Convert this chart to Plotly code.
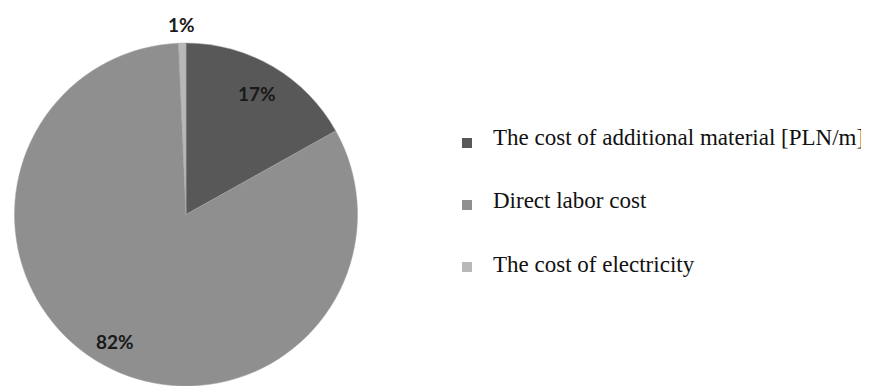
import math
import plotly.graph_objects as go

labels = ["The cost of additional material [PLN/m]", "Direct labor cost", "The cost of electricity"]
values = [16.9, 82.4, 0.7]
colors = ["#585858", "#8f8f8f", "#b8b8b8"]
pct_text = ["17%", "82%", "1%"]

W, H = 869, 386
OFF = 8.0  # page body margin offset in the browser
cx_px, cy_px, r_px = 186.0 - OFF, 214.5 - OFF, 171.5

fig = go.Figure()
fig.add_trace(go.Pie(
    labels=labels, values=values, sort=False, direction="clockwise", rotation=0,
    marker=dict(colors=colors, line=dict(color="#a0a0a0", width=0.5)),
    textinfo="none", hoverinfo="label+percent",
    domain=dict(x=[(cx_px - r_px) / W, (cx_px + r_px) / W],
                y=[1 - (cy_px + r_px) / H, 1 - (cy_px - r_px) / H]),
    showlegend=False,
))

# percentage labels placed along each slice's mid-angle
total = sum(values)
start = 0.0
radial = [0.82, 0.85, 1.11]
annotations = []
for v, t, rf in zip(values, pct_text, radial):
    mid = (start + v / 2) / total * 2 * math.pi
    start += v
    px = cx_px + rf * r_px * math.sin(mid)
    py = cy_px - rf * r_px * math.cos(mid)
    annotations.append(dict(
        x=px / W, y=1 - py / H, xref="paper", yref="paper", text="<b>%s</b>" % t,
        showarrow=False, font=dict(family="Lato", size=19, color="#1a1a1a"),
        xanchor="center", yanchor="middle"))

# manual legend
leg_y = [137, 200.5, 264.5]
sq_y = [143, 205, 267]
shapes = []
for lab, col, ty, sy in zip(labels, colors, leg_y, sq_y):
    annotations.append(dict(
        x=(491 - OFF) / W, y=1 - (ty - OFF) / H, xref="paper", yref="paper", text=lab,
        showarrow=False,
        font=dict(family="Liberation Serif", size=23, color="#111111"),
        xanchor="left", yanchor="middle"))
    shapes.append(dict(type="rect", xref="paper", yref="paper",
                       x0=(462 - OFF) / W, x1=(472 - OFF) / W,
                       y0=1 - (sy + 5 - OFF) / H, y1=1 - (sy - 5 - OFF) / H,
                       fillcolor=col, line=dict(width=0)))

fig.update_layout(
    width=W, height=H, margin=dict(l=0, r=0, t=0, b=0),
    paper_bgcolor="white", plot_bgcolor="white",
    annotations=annotations, shapes=shapes,
)
fig.write_html("out.html")
